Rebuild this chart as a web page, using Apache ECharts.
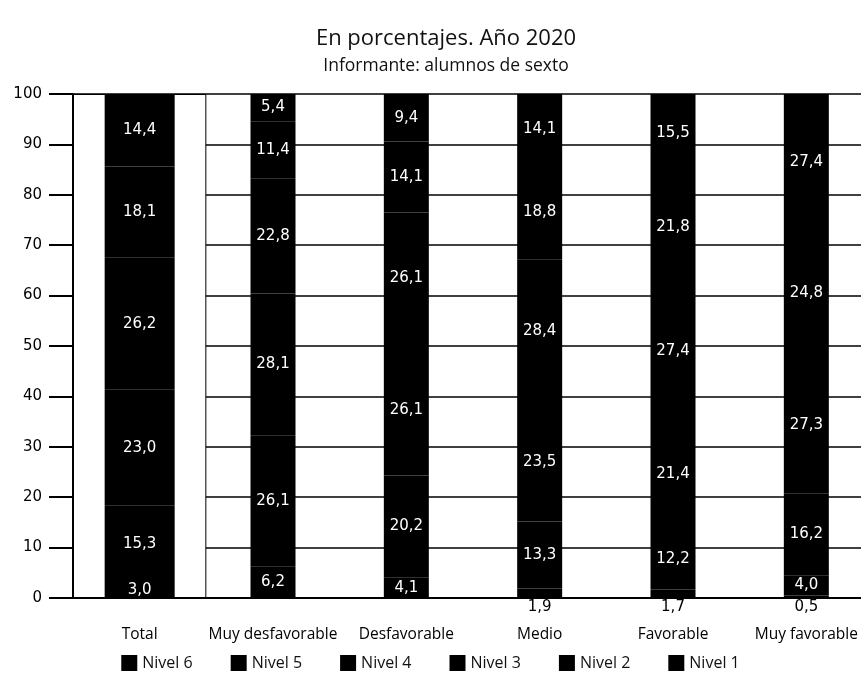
<!DOCTYPE html>
<html>
<head>
<meta charset="utf-8">
<script src="https://cdn.jsdelivr.net/npm/echarts@6/dist/echarts.min.js"></script>
<style>
  html, body { margin: 0; padding: 0; background: #fff; }
  #main { width: 861px; height: 697px; }
</style>
</head>
<body>
<div id="main"></div>
<script>
// categorías del eje x
const categories = ['Total', 'Muy desfavorable', 'Desfavorable', 'Medio', 'Favorable', 'Muy favorable']
// porcentajes por nivel (de abajo hacia arriba)
const nivel1 = [3.0, 6.2, 4.1, 1.9, 1.7, 0.5]
const nivel2 = [15.3, 26.1, 20.2, 13.3, 12.2, 4.0]
const nivel3 = [23.0, 28.1, 26.1, 23.5, 21.4, 16.2]
const nivel4 = [26.2, 22.8, 26.1, 28.4, 27.4, 27.3]
const nivel5 = [18.1, 11.4, 14.1, 18.8, 21.8, 24.8]
const nivel6 = [14.4, 5.4, 9.4, 14.1, 15.5, 27.4]
const levelNames = ['Nivel 1', 'Nivel 2', 'Nivel 3', 'Nivel 4', 'Nivel 5', 'Nivel 6']
const levels = [nivel1, nivel2, nivel3, nivel4, nivel5, nivel6]
const yTicks = [0, 10, 20, 30, 40, 50, 60, 70, 80, 90, 100]

const fmt = (v) => v.toFixed(1).replace('.', ',')

var chart = echarts.init(document.getElementById('main'))

const series = []
// fondo blanco de la columna Total
series.push({
  type: 'bar',
  xAxisIndex: 2,
  barWidth: '100%',
  silent: true,
  itemStyle: { color: '#fff', borderColor: '#000', borderWidth: 1 },
  data: categories.map((c, i) => (i === 0 ? yTicks[yTicks.length - 1] : '-')),
})
levels.forEach((arr, k) => {
  const mk = (v) => {
    // los valores muy pequeños van debajo del eje
    if (v < 2) {
      return { value: v, label: { position: 'bottom', color: '#000', distance: 2 } }
    }
    return v
  }
  const common = {
    name: levelNames[k],
    type: 'bar',
    itemStyle: { color: '#000' },
    label: {
      show: true,
      position: 'inside',
      color: '#fff',
      fontFamily: 'DejaVu Sans',
      fontSize: 15,
      formatter: (p) => fmt(p.value),
    },
  }
  // Total, más ancha
  series.push(Object.assign({}, common, {
    xAxisIndex: 0,
    stack: 'total',
    barWidth: 70,
    data: arr.map((v, i) => (i === 0 ? mk(v) : '-')),
  }))
  series.push(Object.assign({}, common, {
    xAxisIndex: 1,
    stack: 'otros',
    barWidth: 45,
    data: arr.map((v, i) => (i === 0 ? '-' : mk(v))),
  }))
})

chart.setOption({
  animation: false,
  backgroundColor: '#fff',
  title: [
    {
      text: 'En porcentajes. Año 2020',
      left: 441,
      textAlign: 'center',
      top: 23,
      textStyle: { fontFamily: 'Open Sans', fontSize: 22, fontWeight: 'normal', color: '#111' },
    },
    {
      text: 'Informante: alumnos de sexto',
      left: 441,
      textAlign: 'center',
      top: 52,
      textStyle: { fontFamily: 'Open Sans', fontSize: 17.5, fontWeight: 'normal', color: '#111' },
    },
  ],
  legend: {
    data: levelNames.slice().reverse(),
    top: 650,
    left: 'center',
    icon: 'rect',
    itemWidth: 16,
    itemHeight: 16,
    itemGap: 38,
    selectedMode: false,
    textStyle: { fontFamily: 'Open Sans', fontSize: 16, color: '#111' },
  },
  grid: { left: 73, width: 800, top: 94, bottom: 99, outerBoundsMode: 'none' },
  xAxis: [
    {
      type: 'category',
      data: categories,
      axisLine: { lineStyle: { color: '#000', width: 2 } },
      axisTick: { show: false },
      axisLabel: { margin: 29, color: '#000', fontFamily: 'Open Sans', fontSize: 15.5, interval: 0 },
    },
    { type: 'category', data: categories, show: false },
    { type: 'category', data: categories, show: false },
  ],
  yAxis: {
    type: 'value',
    min: 0,
    max: 100,
    interval: 10,
    axisLine: { show: true, lineStyle: { color: '#000', width: 2 } },
    axisTick: { show: true, length: 24, lineStyle: { color: '#000', width: 2 } },
    axisLabel: { margin: 31, color: '#000', fontFamily: 'DejaVu Sans', fontSize: 15 },
    splitLine: { lineStyle: { color: '#000', width: 1.5 } },
  },
  series: series,
})
</script>
</body>
</html>
